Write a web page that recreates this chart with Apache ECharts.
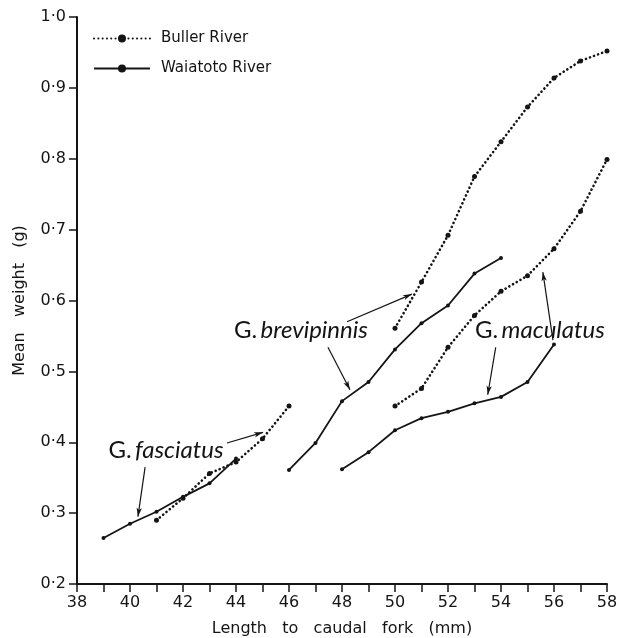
<!DOCTYPE html>
<html>
<head>
<meta charset="utf-8">
<script src="https://cdn.jsdelivr.net/npm/echarts@6/dist/echarts.min.js"></script>
<style>
html,body{margin:0;padding:0;background:#fff;}
#chart{width:632px;height:638px;}
</style>
</head>
<body>
<div id="chart"></div>
<script>
// ---- Data ----
const bullerFasciatusX = [41, 42, 43, 44, 45, 46];
const bullerFasciatusY = [0.290, 0.321, 0.356, 0.372, 0.405, 0.451];
const waiatotoFasciatusX = [39, 40, 41, 42, 43, 44];
const waiatotoFasciatusY = [0.265, 0.285, 0.302, 0.323, 0.342, 0.377];

const bullerBrevipinnisX = [50, 51, 52, 53, 54, 55, 56, 57, 58];
const bullerBrevipinnisY = [0.561, 0.626, 0.692, 0.775, 0.824, 0.873, 0.914, 0.938, 0.952];
const waiatotoBrevipinnisX = [46, 47, 48, 49, 50, 51, 52, 53, 54];
const waiatotoBrevipinnisY = [0.361, 0.399, 0.458, 0.485, 0.531, 0.568, 0.593, 0.638, 0.660];

const bullerMaculatusX = [50, 51, 52, 53, 54, 55, 56, 57, 58];
const bullerMaculatusY = [0.451, 0.476, 0.534, 0.579, 0.613, 0.635, 0.673, 0.726, 0.799];
const waiatotoMaculatusX = [48, 49, 50, 51, 52, 53, 54, 55, 56];
const waiatotoMaculatusY = [0.362, 0.386, 0.417, 0.434, 0.443, 0.455, 0.464, 0.485, 0.538];

const legendNames = ['Buller River', 'Waiatoto River'];
const xTitle = 'Length   to   caudal   fork   (mm)';
const yTitle = 'Mean   weight   (g)';

// annotation labels: [genus, species, x, y]
const speciesLabels = [
  ['G.', 'fasciatus', 41.36, 0.388],
  ['G.', 'brevipinnis', 46.45, 0.558],
  ['G.', 'maculatus', 55.47, 0.558]
];
// annotation arrows: [x1, y1, x2(head), y2(head)]
const arrows = [
  [40.57, 0.365, 40.30, 0.295],
  [43.66, 0.399, 45.02, 0.414],
  [48.19, 0.570, 50.64, 0.609],
  [47.47, 0.534, 48.30, 0.474],
  [53.80, 0.534, 53.50, 0.467],
  [55.96, 0.544, 55.58, 0.640]
];

// ---- Build ----
const INK = '#141414';
function pairs(xs, ys) { return xs.map((x, i) => [x, ys[i]]); }

const dottedStyle = { color: INK, width: 2.6, type: [0.1, 4.2], cap: 'round' };
const solidStyle = { color: INK, width: 1.8, type: 'solid' };

function seriesOf(name, xs, ys, dotted) {
  return {
    type: 'line',
    name: name,
    data: pairs(xs, ys),
    symbol: 'circle',
    symbolSize: dotted ? 5 : 4,
    showSymbol: true,
    itemStyle: { color: INK },
    lineStyle: dotted ? dottedStyle : solidStyle,
    emphasis: { disabled: true },
    animation: false,
    z: 3
  };
}

const series = [
  seriesOf('Buller River', bullerFasciatusX, bullerFasciatusY, true),
  seriesOf('Waiatoto River', waiatotoFasciatusX, waiatotoFasciatusY, false),
  seriesOf('Buller River', bullerBrevipinnisX, bullerBrevipinnisY, true),
  seriesOf('Waiatoto River', waiatotoBrevipinnisX, waiatotoBrevipinnisY, false),
  seriesOf('Buller River', bullerMaculatusX, bullerMaculatusY, true),
  seriesOf('Waiatoto River', waiatotoMaculatusX, waiatotoMaculatusY, false),
  {
    type: 'line',
    name: 'annotations',
    data: [],
    animation: false,
    silent: true,
    markPoint: {
      symbol: 'circle',
      symbolSize: 0,
      animation: false,
      label: {
        show: true,
        position: 'inside',
        color: INK,
        rich: {
          g: { fontFamily: 'Lato', fontSize: 24, color: INK },
          i: { fontFamily: 'Lato', fontStyle: 'italic', fontSize: 24, color: INK }
        }
      },
      data: speciesLabels.map(l => ({
        coord: [l[2], l[3]],
        label: { formatter: '{g|' + l[0] + '} {i|' + l[1] + '}' }
      }))
    },
    markLine: {
      silent: true,
      animation: false,
      symbol: ['none', 'arrow'],
      symbolSize: [4, 9],
      precision: 3,
      lineStyle: { color: INK, width: 1.2, type: 'solid' },
      itemStyle: { color: INK },
      label: { show: false },
      data: arrows.map(a => [
        { coord: [a[0], a[1]] },
        { coord: [a[2], a[3]] }
      ])
    }
  }
];

const chart = echarts.init(document.getElementById('chart'), null, { renderer: 'canvas' });
chart.setOption({
  backgroundColor: '#ffffff',
  animation: false,
  grid: { left: 77, right: 25, top: 17, bottom: 54, containLabel: false, outerBoundsMode: 'none' },
  legend: {
    data: legendNames,
    orient: 'vertical',
    left: 88,
    top: 26,
    itemWidth: 56,
    itemHeight: 10,
    itemGap: 15,
    selectedMode: false,
    textStyle: { fontFamily: 'DejaVu Sans', fontSize: 15, color: INK, padding: [0, 0, 0, 6] }
  },
  xAxis: {
    type: 'value',
    min: 38,
    max: 58,
    interval: 2,
    name: xTitle,
    nameLocation: 'middle',
    nameGap: 37,
    nameTextStyle: { fontFamily: 'DejaVu Sans', fontSize: 16, color: INK },
    splitLine: { show: false },
    axisLine: { show: true, onZero: false, lineStyle: { color: INK, width: 2 } },
    axisTick: { show: true, inside: false, length: 8, lineStyle: { color: INK, width: 1.5 } },
    minorTick: { show: true, splitNumber: 2, length: 8, lineStyle: { color: INK, width: 1.5 } },
    axisLabel: { fontFamily: 'DejaVu Sans', fontSize: 16, color: INK, margin: 11 }
  },
  yAxis: {
    type: 'value',
    min: 0.2,
    max: 1.0,
    interval: 0.1,
    name: yTitle,
    nameLocation: 'middle',
    nameGap: 49,
    nameTextStyle: { fontFamily: 'DejaVu Sans', fontSize: 16, color: INK },
    splitLine: { show: false },
    axisLine: { show: true, onZero: false, lineStyle: { color: INK, width: 2 } },
    axisTick: { show: true, inside: false, length: 8, lineStyle: { color: INK, width: 1.5 } },
    axisLabel: {
      fontFamily: 'DejaVu Sans', fontSize: 16, color: INK, margin: 11,
      formatter: v => v.toFixed(1).replace('.', '·')
    }
  },
  series: series
});
</script>
</body>
</html>
